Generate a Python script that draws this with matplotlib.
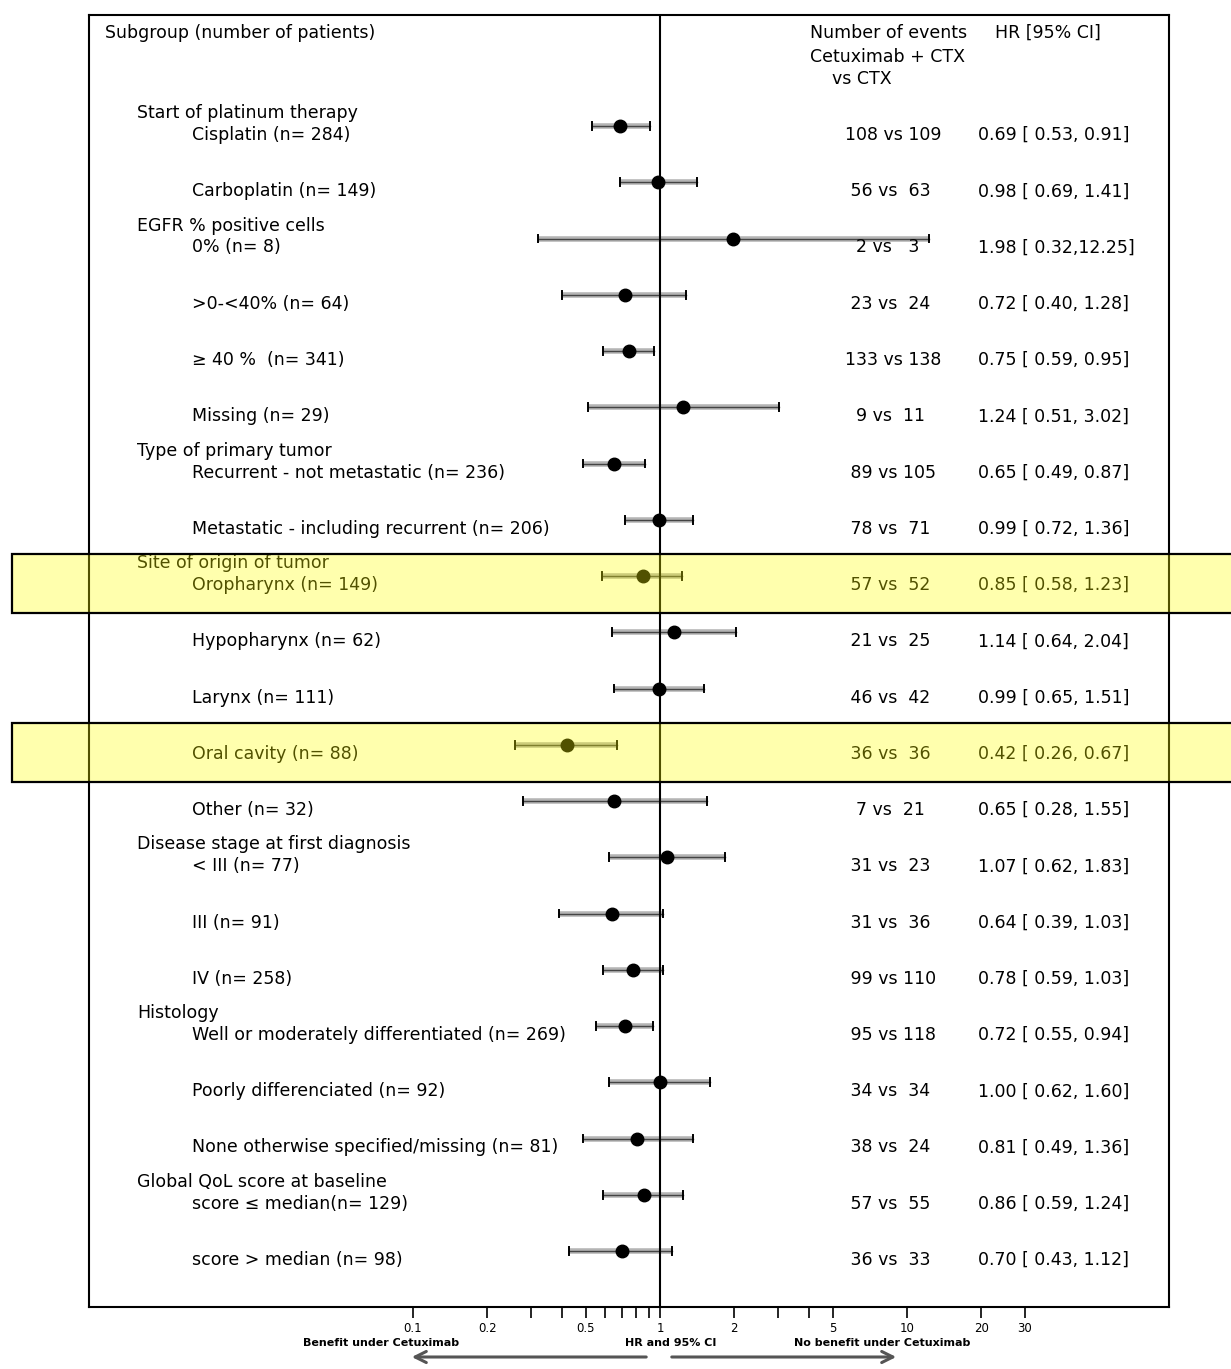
import matplotlib
matplotlib.use("Agg")
import matplotlib.pyplot as plt
import matplotlib.transforms as mtransforms
from matplotlib.patches import Rectangle, FancyArrowPatch

plt.rcParams['font.family'] = ['DejaVu Sans']

# ---------------- data ----------------
headers = {
    0: "Start of platinum therapy",
    2: "EGFR % positive cells",
    6: "Type of primary tumor",
    8: "Site of origin of tumor",
    13: "Disease stage at first diagnosis",
    16: "Histology",
    19: "Global QoL score at baseline",
}
labels = ["Cisplatin ", "Carboplatin ", "0% ", ">0-<40% ", "\u2265 40 %  ", "Missing ",
          "Recurrent - not metastatic ", "Metastatic - including recurrent ",
          "Oropharynx ", "Hypopharynx ", "Larynx ", "Oral cavity ", "Other ",
          "< III ", "III ", "IV ",
          "Well or moderately differentiated ", "Poorly differenciated ",
          "None otherwise specified/missing ",
          "score \u2264 median", "score > median "]
n_pat = [284, 149, 8, 64, 341, 29, 236, 206, 149, 62, 111, 88, 32, 77, 91, 258,
         269, 92, 81, 129, 98]
hr = [0.69, 0.98, 1.98, 0.72, 0.75, 1.24, 0.65, 0.99, 0.85, 1.14, 0.99, 0.42, 0.65,
      1.07, 0.64, 0.78, 0.72, 1.00, 0.81, 0.86, 0.70]
lo = [0.53, 0.69, 0.32, 0.40, 0.59, 0.51, 0.49, 0.72, 0.58, 0.64, 0.65, 0.26, 0.28,
      0.62, 0.39, 0.59, 0.55, 0.62, 0.49, 0.59, 0.43]
hi = [0.91, 1.41, 12.25, 1.28, 0.95, 3.02, 0.87, 1.36, 1.23, 2.04, 1.51, 0.67, 1.55,
      1.83, 1.03, 1.03, 0.94, 1.60, 1.36, 1.24, 1.12]
ev_cet = [108, 56, 2, 23, 133, 9, 89, 78, 57, 21, 46, 36, 7, 31, 31, 99, 95, 34, 38, 57, 36]
ev_ctx = [109, 63, 3, 24, 138, 11, 105, 71, 52, 25, 42, 36, 21, 23, 36, 110, 118, 34, 24, 55, 33]
highlight_rows = [8, 11]
tick_vals = [0.1, 0.2, 0.3, 0.4, 0.5, 0.6, 0.7, 0.8, 0.9, 1, 2, 3, 4, 5, 10, 20, 30]
tick_labels = ["0.1", "0.2", "", "", "0.5", "", "", "", "", "1", "2", "", "", "5",
               "10", "20", "30"]

# ---------------- figure ----------------
W, H = 1231, 1369
fig = plt.figure(figsize=(W / 100, H / 100), dpi=100)
L, R, T, B = 89, 1169, 15, 1307
ax = fig.add_axes([L / W, 1 - B / H, (R - L) / W, (B - T) / H])
ax.set_xscale('log')
x0 = 10 ** ((L - 660) / 247.0)
x1 = 10 ** ((R - 660) / 247.0)
ax.set_xlim(x0, x1)
row0, step = 126, 56.25
ax.set_ylim((B - row0) / step, (T - row0) / step)
for s in ax.spines.values():
    s.set_linewidth(1.5)
ax.set_yticks([])
ax.set_xticks(tick_vals)
ax.set_xticklabels(tick_labels, fontsize=8.5)
ax.xaxis.set_minor_locator(matplotlib.ticker.NullLocator())
ax.tick_params(axis='x', direction='out', length=8, width=1.2, pad=3)

ax.axvline(1, color='black', lw=1.5, zorder=3)

fs = 12.5
tx = mtransforms.blended_transform_factory(ax.transAxes, ax.transData)


def axfrac(px):
    return (px - L) / (R - L)


for i in range(len(labels)):
    # CI
    ax.plot([lo[i], hi[i]], [i, i], color='#b4b4b4', lw=4, solid_capstyle='butt', zorder=2)
    ax.plot([lo[i], hi[i]], [i, i], color='#444444', lw=1.0, zorder=2)
    for v in (lo[i], hi[i]):
        ax.plot([v, v], [i - 0.07, i + 0.07], color='black', lw=1.4, zorder=2)
    ax.plot(hr[i], i, 'o', color='black', ms=9, zorder=4)
    # labels
    ax.text(axfrac(192), i + 0.16, f"{labels[i]}(n= {n_pat[i]})", transform=tx,
            ha='left', va='center', fontsize=fs)
    ax.text(axfrac(845), i + 0.16, f"{ev_cet[i]:3d} vs {ev_ctx[i]:3d}", transform=tx,
            ha='left', va='center', fontsize=fs)
    ax.text(axfrac(978), i + 0.16, f"{hr[i]:.2f} [{lo[i]:5.2f},{hi[i]:5.2f}]", transform=tx,
            ha='left', va='center', fontsize=fs)

for r, h in headers.items():
    ax.text(axfrac(137), r - 0.23, h, transform=tx, ha='left', va='center', fontsize=fs)

# header row
hy = (33 - row0) / step
ax.text(axfrac(105), hy, "Subgroup (number of patients)", transform=tx,
        ha='left', va='center', fontsize=fs)
ax.text(axfrac(810), hy, "Number of events", transform=tx, ha='left', va='center', fontsize=fs)
ax.text(axfrac(810), (57 - row0) / step, "Cetuximab + CTX", transform=tx, ha='left',
        va='center', fontsize=fs)
ax.text(axfrac(832), (79 - row0) / step, "vs CTX", transform=tx, ha='left', va='center',
        fontsize=fs)
ax.text(axfrac(995), hy, "HR [95% CI]", transform=tx, ha='left', va='center', fontsize=fs)

# highlight boxes
for r in highlight_rows:
    y_top = r - 0.39
    y_bot = r + 0.66
    rect = Rectangle((axfrac(12), y_top), axfrac(1245) - axfrac(12), y_bot - y_top,
                     transform=tx, facecolor=(1, 1, 0, 0.32), edgecolor='black',
                     lw=1.6, clip_on=False, zorder=10)
    ax.add_patch(rect)

# bottom annotations
fig.text(381 / W, 1 - 1343 / H, "Benefit under Cetuximab", ha='center', va='center',
         fontsize=8, fontweight='bold')
fig.text(671 / W, 1 - 1343 / H, "HR and 95% CI", ha='center', va='center',
         fontsize=8, fontweight='bold')
fig.text(882 / W, 1 - 1343 / H, "No benefit under Cetuximab", ha='center', va='center',
         fontsize=8, fontweight='bold')
ay = 1 - 1357 / H
fig.add_artist(FancyArrowPatch(
    (649 / W, ay), (409 / W, ay), transform=fig.transFigure,
    arrowstyle='->,head_length=8,head_width=4', color='#555555', lw=2.2,
    mutation_scale=1))
fig.add_artist(FancyArrowPatch(
    (669 / W, ay), (899 / W, ay), transform=fig.transFigure,
    arrowstyle='->,head_length=8,head_width=4', color='#555555', lw=2.2,
    mutation_scale=1))

fig.savefig("out.png", dpi=100)
